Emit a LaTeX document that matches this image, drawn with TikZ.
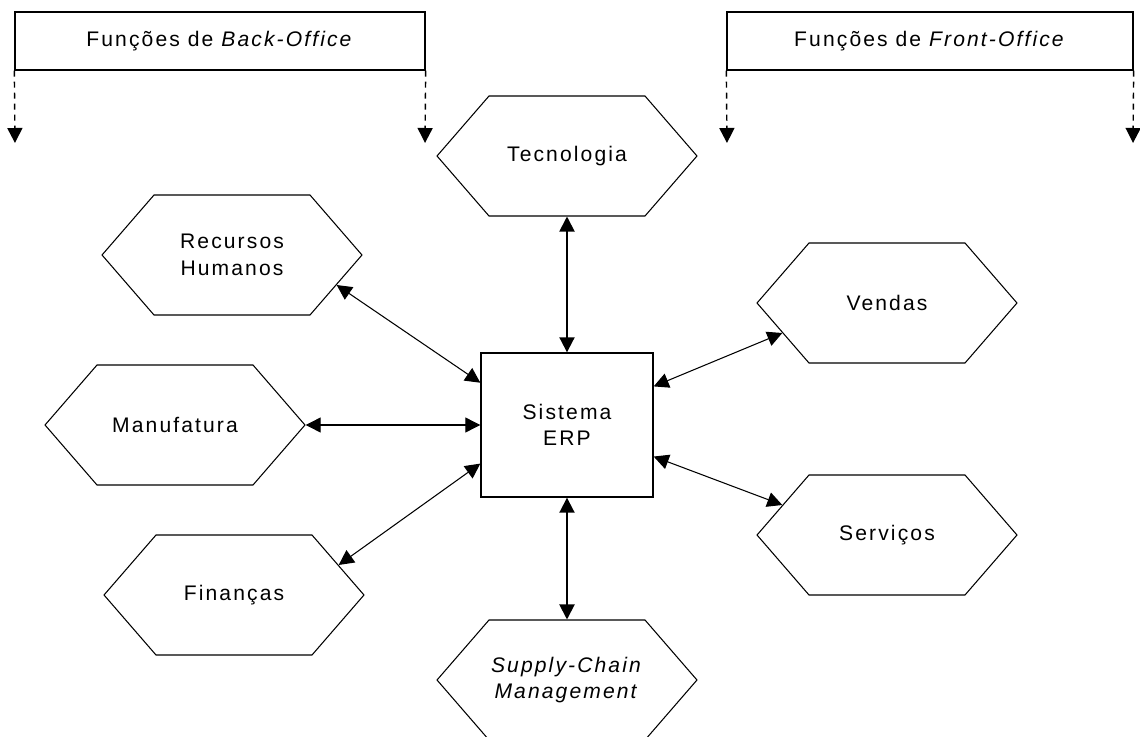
\documentclass[tikz,border=0pt]{standalone}
\usepackage{fontspec}
\setmainfont{Liberation Sans}[LetterSpace=10]
\usetikzlibrary{arrows.meta,shapes.symbols}

\begin{document}
\begin{tikzpicture}[x=0.02cm,y=-0.02cm,
            txt/.style={font=\fontsize{12}{15}\selectfont,align=center},
            hexa/.style={txt,draw,line width=0.6pt,signal,signal to=east and west,
                signal pointer angle=98.2,minimum width=5.2cm,minimum height=2.4cm,inner sep=0pt},
            titlebox/.style={txt,draw,line width=0.8pt,minimum height=1.16cm,inner sep=0pt},
            link/.style={line width=0.6pt,{Triangle[length=0.3cm,width=0.3cm]}-{Triangle[length=0.3cm,width=0.3cm]}},
            vlink/.style={link,line width=1.1pt},
            scope/.style={line width=0.8pt,dash pattern=on 0.12cm off 0.1cm,-{Triangle[length=0.3cm,width=0.3cm]}}]
            \useasboundingbox (0,0) rectangle (1140,737);
            % caixas de funcoes
            \node[titlebox,minimum width=8.2cm] (bo) at (220,41) {Funções de \textit{Back-Office}};
            \node[titlebox,minimum width=8.12cm] (fo) at (930,41) {Funções de \textit{Front-Office}};
            \coordinate (bol) at (15,143);
            \coordinate (bor) at (425,143);
            \coordinate (fol) at (727,143);
            \coordinate (for) at (1133,143);
            \draw[scope] (bo.south west) -- (bol);
            \draw[scope] (bo.south east) -- (bor);
            \draw[scope] (fo.south west) -- (fol);
            \draw[scope] (fo.south east) -- (for);
            % sistema central
            \node[txt,draw,line width=0.8pt,minimum width=3.44cm,minimum height=2.88cm,inner sep=0pt] (erp) at (567,425) {Sistema\\ERP};
            % modulos
            \node[hexa] (tec) at (567,156) {Tecnologia};
            \node[hexa] (rh) at (232,255) {Recursos\\Humanos};
            \node[hexa] (man) at (175,425) {Manufatura};
            \node[hexa] (fin) at (234,595) {Finanças};
            \node[hexa] (scm) at (567,680) {\textit{Supply-Chain}\\\textit{Management}};
            \node[hexa] (ven) at (887,303) {Vendas};
            \node[hexa] (ser) at (887,535) {Serviços};
            % ligacoes
            \draw[vlink] (tec.south) -- (erp.north);
            \draw[vlink] (scm.north) -- (erp.south);
            \draw[link] (man.east) -- (erp.west);
            \draw[link] (rh.-16) -- (erp.154);
            \draw[link] (fin.16) -- (erp.-156);
            \draw[link] (erp.24) -- (ven.-164);
            \draw[link] (erp.-20) -- (ser.164);
\end{tikzpicture}
\end{document}
